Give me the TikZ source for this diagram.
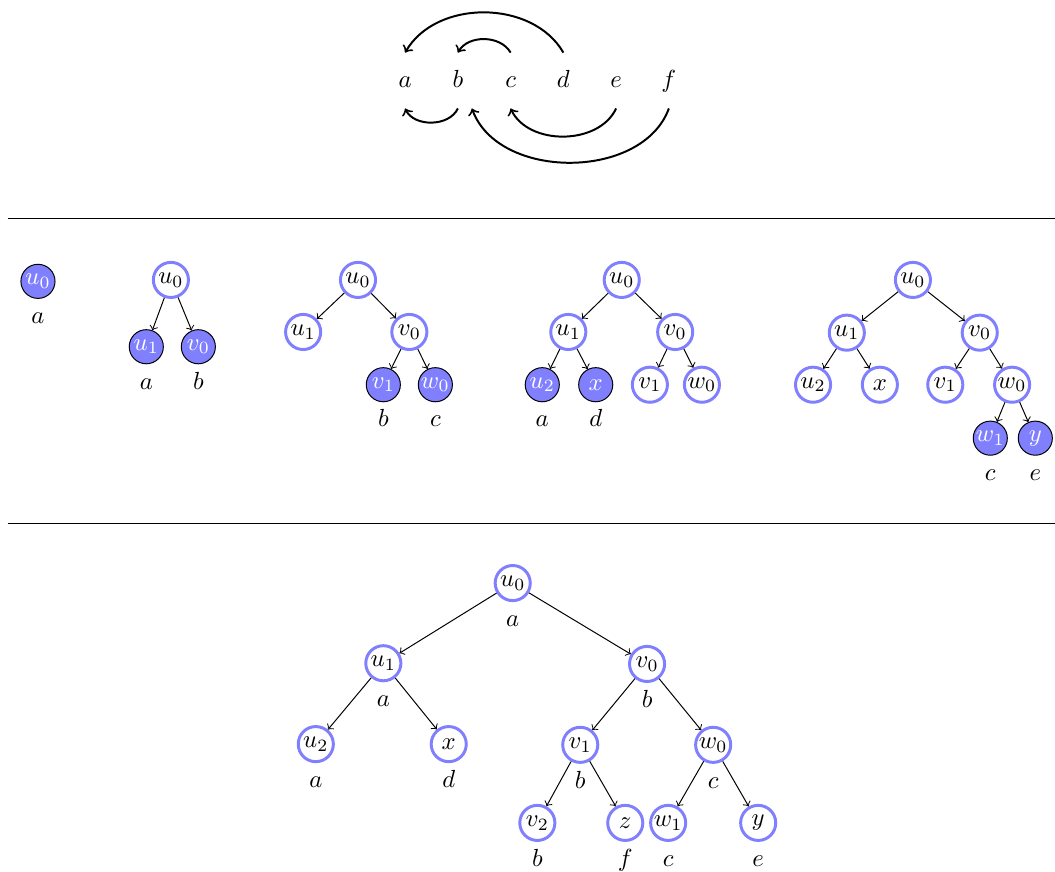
\documentclass[tikz,border=0pt]{standalone}

\tikzset{
  vtx/.style={circle, draw=blue!50, very thick, fill=white, inner sep=0pt, minimum size=14.2pt},
  leaf/.style={circle, draw, fill=blue!50, text=white, inner sep=0pt, minimum size=13.8pt},
  letter/.style={minimum height=0.78cm, text height=1.5ex, text depth=.25ex},
  hop/.style={->, thick},
  every label/.style={label distance=0pt, text height=1.5ex, text depth=.25ex}
}

\begin{document}
\begin{tikzpicture}
\useasboundingbox (0,0) rectangle (15,-12.385);

% the word and its jumps
\foreach \l [count=\i] in {a,b,c,d,e,f}
  \node[letter] (\l) at ({5.01+0.75*\i},-1.145) {$\l$};

\draw[hop] (d.north) to[bend right=60] (a.north);
\draw[hop] (c.north) to[bend right=60] (b.north);
\draw[hop] (b.south) to[bend left=65] (a.south);
\draw[hop] (e.south) to[bend left=65] (c.south);
\draw[hop] (f.south) to[bend left=70] (b.south east);

\draw (0.11,-3.10) -- (15,-3.10);
\draw (0.11,-7.44) -- (15,-7.44);

% step 1
\node[leaf, label=below:$a$] (s1-u0) at (0.54,-4.00) {$u_0$};

% step 2
\node[vtx] (s2-u0) at (2.43,-3.98) {$u_0$};
\node[leaf, label=below:$a$] (s2-u1) at (2.08,-4.93) {$u_1$};
\node[leaf, label=below:$b$] (s2-v0) at (2.82,-4.93) {$v_0$};

% step 3
\node[vtx] (s3-u0) at (5.09,-3.98) {$u_0$};
\node[vtx] (s3-u1) at (4.31,-4.72) {$u_1$};
\node[vtx] (s3-v0) at (5.82,-4.72) {$v_0$};
\node[leaf, label=below:$b$] (s3-v1) at (5.45,-5.47) {$v_1$};
\node[leaf, label=below:$c$] (s3-w0) at (6.19,-5.47) {$w_0$};

% step 4
\node[vtx] (s4-u0) at (8.84,-3.98) {$u_0$};
\node[vtx] (s4-u1) at (8.08,-4.72) {$u_1$};
\node[vtx] (s4-v0) at (9.60,-4.72) {$v_0$};
\node[leaf, label=below:$a$] (s4-u2) at (7.71,-5.47) {$u_2$};
\node[leaf, label=below:$d$] (s4-x) at (8.47,-5.47) {$x$};
\node[vtx] (s4-v1) at (9.24,-5.47) {$v_1$};
\node[vtx] (s4-w0) at (9.98,-5.47) {$w_0$};

% step 5
\node[vtx] (s5-u0) at (12.98,-3.98) {$u_0$};
\node[vtx] (s5-u1) at (12.04,-4.73) {$u_1$};
\node[vtx] (s5-v0) at (13.93,-4.73) {$v_0$};
\node[vtx] (s5-u2) at (11.56,-5.47) {$u_2$};
\node[vtx] (s5-x) at (12.51,-5.47) {$x$};
\node[vtx] (s5-v1) at (13.44,-5.47) {$v_1$};
\node[vtx] (s5-w0) at (14.39,-5.47) {$w_0$};
\node[leaf, label=below:$c$] (s5-w1) at (14.08,-6.23) {$w_1$};
\node[leaf, label=below:$e$] (s5-y) at (14.72,-6.23) {$y$};

\foreach \p/\c in {s2-u0/s2-u1, s2-u0/s2-v0,
    s3-u0/s3-u1, s3-u0/s3-v0, s3-v0/s3-v1, s3-v0/s3-w0,
    s4-u0/s4-u1, s4-u0/s4-v0, s4-u1/s4-u2, s4-u1/s4-x, s4-v0/s4-v1, s4-v0/s4-w0,
    s5-u0/s5-u1, s5-u0/s5-v0, s5-u1/s5-u2, s5-u1/s5-x, s5-v0/s5-v1, s5-v0/s5-w0,
    s5-w0/s5-w1, s5-w0/s5-y}
  \draw[->] (\p) -- (\c);

% final tree
\node[vtx, label=below:$a$] (u0) at (7.29,-8.29) {$u_0$};
\node[vtx, label=below:$a$] (u1) at (5.45,-9.43) {$u_1$};
\node[vtx, label=below:$b$] (v0) at (9.20,-9.44) {$v_0$};
\node[vtx, label=below:$a$] (u2) at (4.49,-10.58) {$u_2$};
\node[vtx, label=below:$d$] (x) at (6.38,-10.58) {$x$};
\node[vtx, label=below:$b$] (v1) at (8.25,-10.59) {$v_1$};
\node[vtx, label=below:$c$] (w0) at (10.14,-10.59) {$w_0$};
\node[vtx, label=below:$b$] (v2) at (7.64,-11.70) {$v_2$};
\node[vtx, label=below:$f$] (z) at (8.89,-11.70) {$z$};
\node[vtx, label=below:$c$] (w1) at (9.50,-11.70) {$w_1$};
\node[vtx, label=below:$e$] (y) at (10.78,-11.70) {$y$};

\foreach \p/\c in {u0/u1, u0/v0, u1/u2, u1/x, v0/v1, v0/w0, v1/v2, v1/z, w0/w1, w0/y}
  \draw[->] (\p) -- (\c);

\end{tikzpicture}
\end{document}
